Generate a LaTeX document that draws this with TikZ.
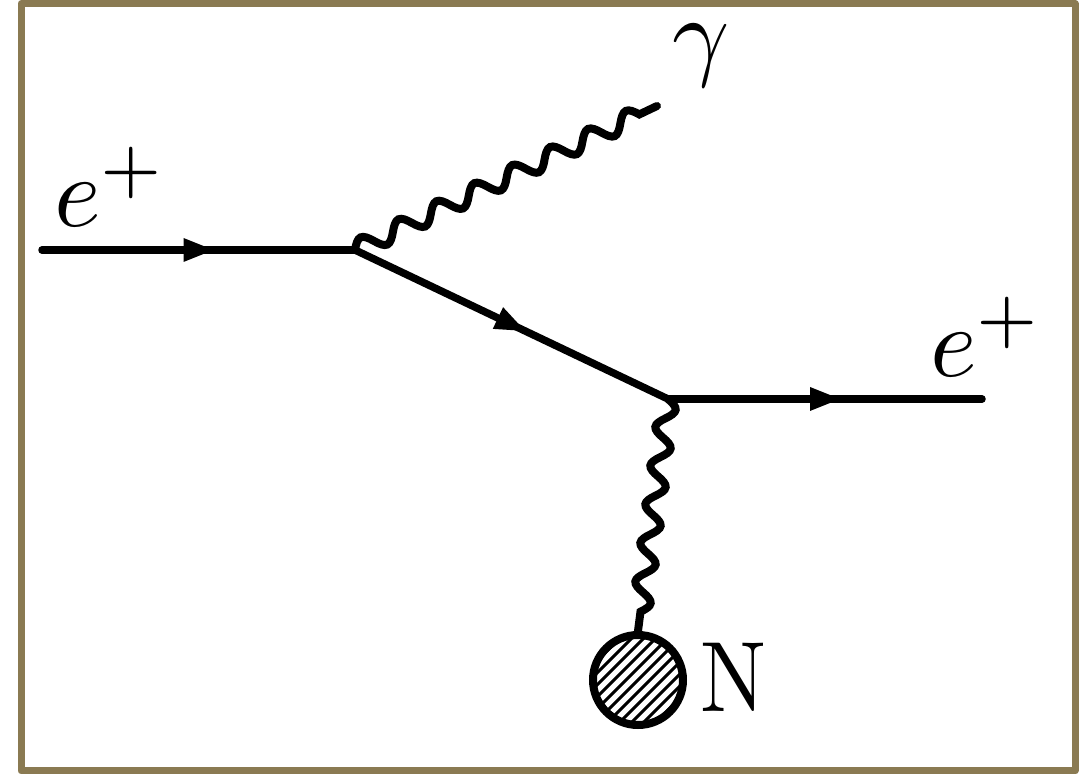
\documentclass[tikz,border=0pt]{standalone}
\usetikzlibrary{decorations.pathmorphing,decorations.markings}
\definecolor{framecol}{RGB}{138,122,82}
\tikzset{
  fermion/.style={line width=7.5pt, line cap=round, postaction={decorate},
    decoration={markings, mark=at position 0.5 with
      {\fill (-15pt,12pt) -- (15pt,0pt) -- (-15pt,-12pt) -- cycle;}}},
  photon/.style={line width=8pt, line cap=round, decorate,
    decoration={coil, aspect=0, amplitude=9pt, segment length=#1}},
  lbl/.style={inner sep=0pt, anchor=base west, scale=10},
  nlbl/.style={inner sep=0pt, anchor=base west, xscale=8.8, yscale=10},
  blob/.style={circle, draw, line width=8pt, minimum size=90pt, inner sep=0pt,
    fill=white},
  hatch/.style={line width=3pt},
  frame/.style={draw=framecol, line width=7pt, line join=round}
}
\begin{document}
\begin{tikzpicture}[x=1pt,y=1pt]
  \useasboundingbox (0,0) rectangle (1088,774);
  \draw[frame] (21,3) rectangle (1075,770.5);

  % vertices and free ends
  \coordinate (inL)  at (42,524);
  \coordinate (v1)   at (355,524);
  \coordinate (v2)   at (668,375);
  \coordinate (outR) at (982,375);
  \coordinate (gEnd) at (657,668);

  % nucleus with diagonal hatching
  \node[blob] (nuc) at (638,94) {};
  \begin{scope}
    \clip (nuc.center) circle (45pt);
    \foreach \i in {-7,...,7}
      \draw[hatch] ([shift={(-6*\i-45,6*\i-45)}]nuc.center)
                -- ([shift={(-6*\i+45,6*\i+45)}]nuc.center);
  \end{scope}

  % positron line
  \draw[fermion] (inL) -- (v1);
  \draw[fermion] (v1) -- (v2);
  \draw[fermion] (v2) -- (outR);

  % photons
  \draw[photon=42pt] (v1) -- (gEnd);
  \draw[photon=39pt] (v2) -- (nuc.north);

  % labels
  \node[lbl] (lblIn)  at (52,547)  {$e^+$};
  \node[lbl] (lblOut) at (928,397) {$e^+$};
  \node[lbl] (lblG)   at (670,706) {$\gamma$};
  \node[nlbl] (lblN)  at (699,62)  {N};
\end{tikzpicture}
\end{document}
